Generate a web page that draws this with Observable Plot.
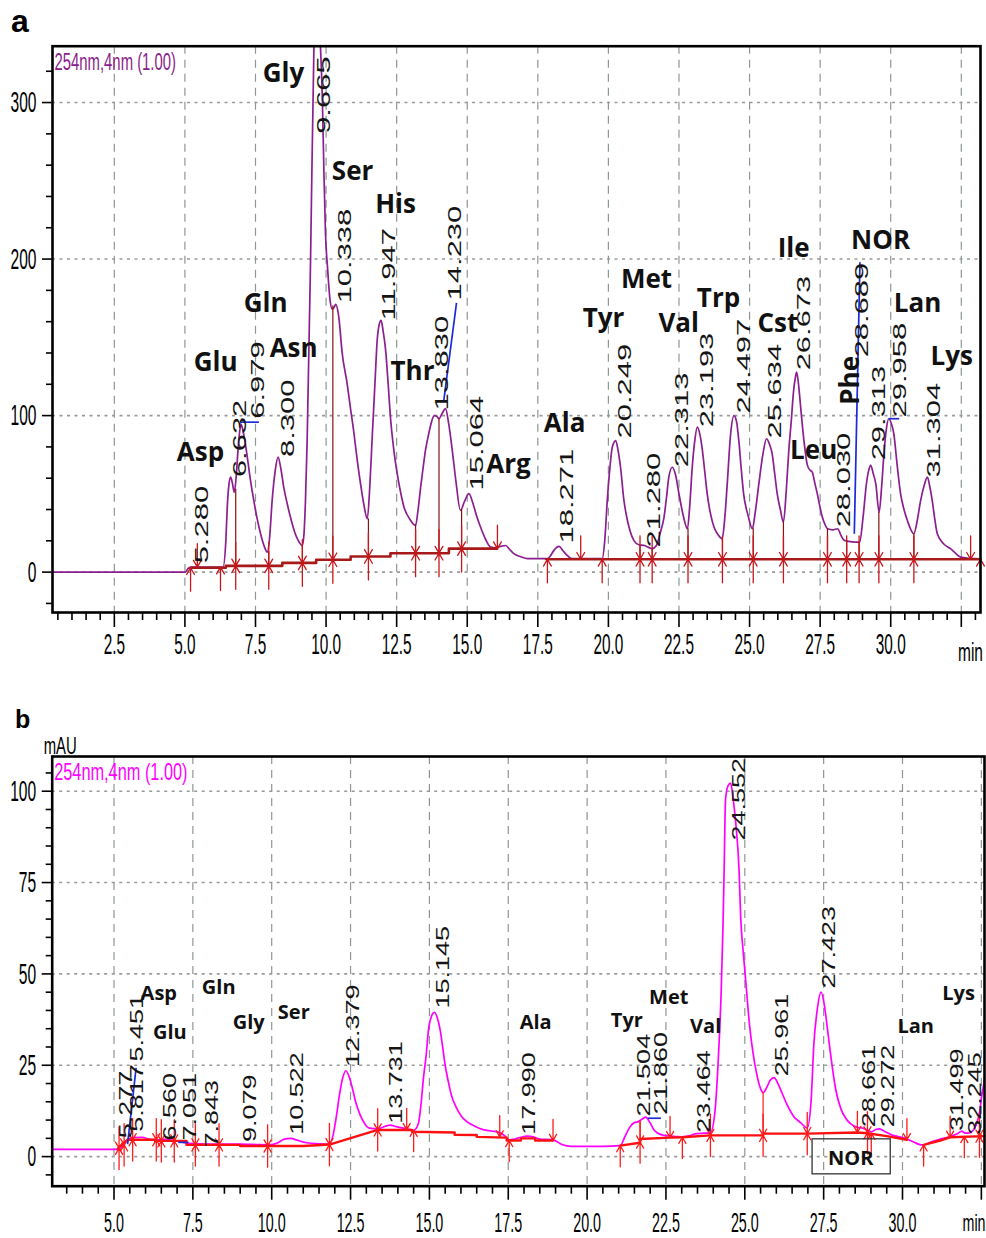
<!DOCTYPE html>
<html><head><meta charset="utf-8">
<script src="https://cdn.jsdelivr.net/npm/d3@7"></script>
<script src="https://cdn.jsdelivr.net/npm/@observablehq/plot@0.6"></script>
<style>
body{margin:0;background:#fff;}
#wrap{position:relative;width:986px;height:1238px;overflow:hidden;background:#fff;}
.pl{position:absolute;font-family:"Liberation Sans",Arial,sans-serif;font-weight:bold;line-height:1;color:#000;}
#pa{position:absolute;left:0;top:0;}
#pb{position:absolute;left:0;top:700px;}
</style></head><body>
<div id="wrap">
  <div id="pa"></div>
  <div id="pb"></div>
  <div class="pl" style="left:11px;top:5px;font-size:32px">a</div>
  <div class="pl" style="left:15px;top:707px;font-size:25px">b</div>
</div>
<script>
// ---------------- Panel a data ----------------
const traceA = [
[0.31,0],[5.02,0],[5.12,2.5],[5.26,3.2],[6.35,3.2],[6.45,20],[6.5,41.5],[6.56,56],[6.62,60.7],[6.68,57],[6.75,51],[6.82,62],[6.88,77.8],[6.94,90],[6.99,94.4],[7.05,91],[7.13,83],[7.21,73.5],[7.32,59],[7.44,45.8],[7.56,34],[7.68,24.5],[7.8,17],[7.92,12.8],[8.0,22],[8.09,45.8],[8.2,65],[8.3,73.5],[8.4,66],[8.5,54.3],[8.62,44],[8.74,35],[8.88,26],[9.02,20],[9.16,17],[9.22,25],[9.27,45.8],[9.33,84],[9.45,199],[9.57,336],[9.665,380],[9.8,336],[9.87,301],[9.92,259],[9.98,216],[10.05,195],[10.13,175.7],[10.22,168],[10.28,169],[10.34,171],[10.45,163],[10.57,140],[10.75,120],[10.87,104],[10.99,88.4],[11.1,72],[11.22,56.5],[11.34,43],[11.46,34],[11.55,55],[11.64,88.4],[11.73,120],[11.81,148],[11.88,158],[11.95,160.8],[12.02,154],[12.11,141.7],[12.2,120],[12.28,99],[12.4,78],[12.52,62.9],[12.64,51],[12.76,41.5],[12.96,34],[13.17,29.8],[13.26,40],[13.35,54.3],[13.44,67],[13.52,77.8],[13.62,87],[13.72,95],[13.83,100],[13.92,99.5],[14.0,98],[14.1,101],[14.23,104.4],[14.35,94],[14.47,77.8],[14.6,58],[14.76,39.4],[14.9,45],[15.06,50.1],[15.2,44],[15.33,36],[15.47,28.8],[15.65,21],[15.83,16],[16.0,15.5],[16.18,16.4],[16.36,17],[16.5,14.5],[16.65,11.8],[16.9,9.8],[17.13,8.6],[17.84,8.6],[17.95,10.5],[18.07,13.9],[18.25,16.4],[18.4,13.5],[18.54,10.7],[18.73,8.6],[19.78,8.6],[19.87,20],[19.96,45.8],[20.05,66],[20.14,80],[20.26,84],[20.34,78],[20.43,67],[20.55,45.8],[20.64,36],[20.73,28.8],[20.9,20.3],[21.08,17.5],[21.28,17],[21.4,16],[21.55,15],[21.7,17],[21.85,26],[21.97,35],[22.06,48],[22.14,60.7],[22.26,67],[22.38,62],[22.5,50],[22.64,37],[22.8,27.7],[22.88,42],[22.97,67],[23.06,84],[23.15,92.7],[23.24,88],[23.33,77.8],[23.42,63],[23.5,50],[23.62,37],[23.74,28.8],[23.88,24],[24.03,21.3],[24.12,34],[24.21,56.5],[24.33,88.4],[24.45,100],[24.54,96],[24.62,84],[24.7,67],[24.79,50],[24.95,36],[25.1,27.7],[25.2,38],[25.33,56.5],[25.47,75],[25.6,85.2],[25.7,82],[25.8,75.7],[25.89,63],[25.98,50],[26.09,40],[26.2,32],[26.3,52],[26.39,77.8],[26.48,97],[26.55,114],[26.63,125],[26.67,127.8],[26.74,119],[26.81,105.4],[26.92,85],[27.05,68.2],[27.15,65],[27.22,63.9],[27.31,57],[27.4,50],[27.49,42],[27.58,35],[27.67,30.5],[27.76,27.7],[27.95,27],[28.12,27.7],[28.25,23],[28.35,20.3],[28.55,19.5],[28.71,19.2],[28.9,19.2],[29.02,35],[29.14,56.5],[29.22,65],[29.29,68.2],[29.38,63],[29.47,56.5],[29.59,38.3],[29.68,55],[29.76,75.7],[29.85,92],[29.93,98],[30.02,95],[30.11,88.4],[30.23,68],[30.35,50],[30.47,40],[30.59,33],[30.82,24.5],[30.94,33],[31.06,45.8],[31.18,55],[31.3,60.7],[31.38,55],[31.47,45.8],[31.56,34],[31.65,24.5],[31.88,18],[32.12,15],[32.3,12],[32.47,9.6],[32.8,8.8],[33.18,8.5]
];
const baselineA = [
[[5.2,2.8],[6.45,2.8],[6.45,4.0],[8.45,4.0],[8.45,5.9],[9.65,5.9],[9.65,7.9],[10.87,7.9],[10.87,10],[12.28,10],[12.28,12.1],[14.35,12.1],[14.35,15],[16.06,15]],
[[17.8,8.2],[33.18,8.2]]
];
// [time, kind, baseline level]
const markersA = [
[5.2,"up",2.8],[5.44,"down",3.2],[6.26,"up",3.2],[6.8,"both",4],[7.97,"both",4],[9.16,"both",5.9],[10.24,"both",7.9],[11.5,"both",10],[13.17,"both",12.1],[14.0,"both",12.1],[14.8,"both",15],[16.07,"down",15],[17.84,"up",8.2],[19.02,"down",8.2],[19.78,"up",8.2],[21.12,"both",8.2],[21.55,"both",8.2],[22.82,"both",8.2],[24.04,"both",8.2],[25.13,"both",8.2],[26.2,"both",8.2],[27.76,"both",8.2],[28.44,"both",8.2],[28.88,"both",8.2],[29.58,"both",8.2],[30.82,"both",8.2],[32.83,"down",8.2],[33.18,"up",8.2]
];
// [time, baseline, valley]
const dropsA = [
[6.8,4,53],[7.97,4,13],[9.16,5.9,17],[10.24,7.9,170],[11.5,10,34],[13.17,12.1,30],[14.0,12.1,98],[14.8,15,40],[21.12,8.2,17],[21.55,8.2,15],[22.82,8.2,27.7],[24.04,8.2,21.3],[25.13,8.2,27.7],[26.2,8.2,32],[27.76,8.2,27.7],[28.44,8.2,20],[28.88,8.2,19.2],[29.58,8.2,38.3],[30.82,8.2,24.5]
];
// leader lines [t1, s1, t2, s2]
const leadersA = [[6.97,95.8,7.62,95.8],[14.17,109.7,14.62,172],[28.71,24.5,28.91,198],[29.93,98,30.3,98]];
// [label, column time, start level]
const peakLabelsA = [
["5.280",5.61,5.6],["6.632",6.97,60.7],["6.979",7.61,98],["8.300",8.65,73.5],["9.665",9.92,280],["10.338",10.69,171.7],["11.947",12.22,160.8],["13.830",14.12,103.3],["14.230",14.59,173.6],["15.064",15.36,52.2],["18.271",18.54,18.3],["20.249",20.61,85.4],["21.280",21.61,15.8],["22.313",22.62,67],["23.193",23.5,92.5],["24.497",24.8,101.4],["25.634",25.92,85.4],["26.673",26.93,128.9],["28.030",28.34,28.6],["28.689",28.99,137.2],["29.313",29.58,71.4],["29.958",30.35,98.8],["31.304",31.53,60.5]
];
// [name, time, level, rotation]
const aminoA = [
["Asp",5.55,76.5,0],["Glu",6.09,134,0],["Gln",7.86,171.7,0],["Asn",8.85,143,0],["Gly",8.49,318.6,0],["Ser",10.94,255.8,0],["His",12.46,234.7,0],["Thr",13.06,128.3,0],["Arg",16.46,68.9,0],["Ala",18.45,95,0],["Tyr",19.83,162,0],["Met",21.35,187,0],["Val",22.49,159,0],["Trp",23.9,175,0],["Cst",26.0,159,0],["Ile",26.56,206.8,0],["Leu",27.27,77.8,0],["Phe",28.58,122.5,-90],["NOR",29.64,211.9,0],["Lan",30.95,171.7,0],["Lys",32.16,137.8,0]
];
const xTicksA = [2.5,5,7.5,10,12.5,15,17.5,20,22.5,25,27.5,30,32.5];
const xTickLabelsA = ["2.5","5.0","7.5","10.0","12.5","15.0","17.5","20.0","22.5","25.0","27.5","30.0",""];
const yTicksA = [0,100,200,300];

// ---------------- Panel b data ----------------
const traceB = [
[3.04,2],[5.16,2],[5.3,3],[5.42,4.5],[5.6,5.2],[5.9,5.3],[6.1,4.8],[6.3,4.6],[6.6,4.7],[6.9,4.4],[7.1,4],[7.4,3.6],[8.0,3.4],[9.0,3.4],[9.5,3.3],[9.9,3.2],[10.2,3.8],[10.4,4.8],[10.6,5],[10.8,4.5],[11.1,3.8],[11.5,3.5],[11.83,3.4],[11.95,6],[12.05,11],[12.15,17],[12.25,21.5],[12.35,23.5],[12.45,22],[12.55,19],[12.66,15],[12.8,11.5],[12.95,9],[13.1,7.8],[13.36,7.6],[13.6,8.3],[13.75,8.6],[13.95,8.2],[14.28,7.6],[14.5,7.2],[14.65,9],[14.73,14],[14.81,21.4],[14.9,28],[14.97,34.7],[15.07,38.5],[15.16,39.5],[15.25,38],[15.34,34.7],[15.42,30],[15.5,25],[15.6,20.5],[15.7,16.7],[15.85,13.5],[16.02,11],[16.2,9.5],[16.44,8.3],[16.7,7.4],[16.97,7],[17.23,6.6],[17.4,5.6],[17.53,4.6],[17.7,4.8],[17.9,5.3],[18.1,5.6],[18.3,5.4],[18.5,4.8],[18.92,4.6],[19.2,3.3],[19.5,2.8],[20.5,2.8],[21.05,3.0],[21.2,5.5],[21.35,8],[21.5,9.3],[21.6,9.5],[21.75,10.3],[21.86,10.8],[21.98,9.5],[22.13,7.2],[22.34,6],[22.63,5.6],[23.02,5.4],[23.3,5.8],[23.46,6.3],[23.7,6.4],[23.91,6.5],[24.05,12],[24.15,25],[24.25,45],[24.31,63.6],[24.34,76.2],[24.39,97.8],[24.47,101.5],[24.55,102.2],[24.63,98],[24.71,91.6],[24.82,78],[24.87,65.4],[24.95,56],[25.03,48],[25.15,36],[25.25,29],[25.38,22.5],[25.5,18.6],[25.58,17.5],[25.7,19],[25.8,20.8],[25.93,21.6],[26.05,20],[26.2,17],[26.35,14],[26.55,11],[26.77,9.3],[26.98,7.8],[27.1,15],[27.19,30.8],[27.3,40.4],[27.42,45],[27.53,41],[27.62,35],[27.72,28],[27.88,18.5],[28.05,13],[28.2,10.5],[28.35,9],[28.57,8],[28.75,7.8],[28.89,7.2],[29.01,6.8],[29.15,7.4],[29.27,7.6],[29.45,6.8],[29.7,5.8],[30.0,5.2],[30.14,4.8],[30.35,4],[30.55,3.3],[30.67,3.2],[30.9,4],[31.2,4.8],[31.51,5.5],[31.75,6.3],[31.88,7],[31.96,6.5],[32.1,6.4],[32.25,7.3],[32.35,9],[32.44,12],[32.52,17],[32.6,21]
];
const baselineB = [
[[5.12,2.2],[5.42,4.6],[6.3,4.6],[6.3,4.3],[7.3,4.3],[7.3,3.2],[9.0,3.2],[9.0,2.9],[11.0,2.9],[11.83,3.3],[13.36,7.3],[14.45,7.3],[14.45,6.8],[15.8,6.6],[15.8,6.0],[16.5,5.9],[16.5,5.4],[17.45,5.2],[17.45,4.4],[17.9,4.4],[17.9,5.0],[18.35,5.0],[18.35,4.4],[18.92,4.4]],
[[21.05,3.0],[21.68,3.8],[21.68,4.8],[22.63,5.2],[23.02,5.3],[23.91,5.8],[25.58,5.8],[25.6,6.3],[26.98,6.3],[28.57,6.6],[28.89,6.4],[29.5,5.6],[30.14,4.6]],
[[30.67,3.2],[31.2,4.4],[31.51,5.3],[32.6,5.6]]
];
const markersB = [
[5.16,"both",2.3],[5.32,"both",3.2],[5.59,"both",4.6],[6.34,"both",4.6],[6.5,"both",4.3],[6.91,"both",4.3],[7.58,"both",3.2],[8.33,"both",3.2],[9.87,"both",2.9],[11.83,"both",3.3],[13.36,"both",7.3],[14.28,"down",7.4],[14.5,"up",7.2],[17.23,"down",5.4],[17.53,"up",4.4],[18.92,"down",4.4],[21.05,"up",3.0],[21.68,"both",4],[22.63,"down",5.2],[23.02,"up",5.3],[23.91,"both",5.8],[25.58,"both",5.8],[26.98,"both",6.3],[28.57,"down",6.6],[28.89,"both",6.5],[29.01,"up",6.4],[30.14,"down",4.6],[30.67,"up",3.2],[31.51,"down",5.3],[31.96,"up",5.5],[32.44,"both",5.6]
];
const dropsB = [[25.58,5.8,17.5],[21.68,4,9.5]];
const leadersB = [[5.43,3.4,5.7,24.3],[7.04,3.9,7.36,3.9],[21.92,10.5,22.34,10.5]];
const peakLabelsB = [
["5.277",5.4,5],["5.817",5.74,6.8],["5.451",5.74,26],["6.560",6.77,4.4],["7.051",7.41,4.4],["7.843",8.11,2.5],["9.079",9.32,4],["10.522",10.8,6],["12.379",12.57,24.5],["13.731",13.95,9],["15.145",15.44,40.5],["17.990",18.18,6],["21.504",21.81,11],["21.860",22.34,11.5],["23.464",23.7,6.5],["24.552",24.82,86.5],["25.961",26.19,22],["27.423",27.67,46],["28.661",28.94,8],["29.272",29.54,8],["31.499",31.75,7],["32.245",32.3,6]
];
const aminoB = [
["Asp",6.42,44.6,0],["Glu",6.77,34,0],["Gln",8.32,46.3,0],["Gly",9.27,36.7,0],["Ser",10.7,39.4,0],["Ala",18.37,36.7,0],["Tyr",21.26,37.2,0],["Met",22.59,43.5,0],["Val",23.76,35.6,0],["Lan",30.42,35.6,0],["Lys",31.78,44.6,0]
];
const boxedB = [["NOR",28.36,-0.5]];
const xTicksB = [5,7.5,10,12.5,15,17.5,20,22.5,25,27.5,30,32.5];
const xTickLabelsB = ["5.0","7.5","10.0","12.5","15.0","17.5","20.0","22.5","25.0","27.5","30.0",""];
const yTicksB = [0,25,50,75,100];

// ---------------- helpers ----------------
const NS = "http://www.w3.org/2000/svg";
const FONT = "'Liberation Sans', Arial, sans-serif";
const BOLD = "'Open Sans', 'Noto Sans', sans-serif";
function flatSegs(segs){const o=[];segs.forEach((seg,i)=>seg.forEach(([t,s])=>o.push({t,s,k:i})));return o;}
function arrowsFrom(markers,len){const o=[];for(const [t,kind,b] of markers){if(kind!=="up")o.push({t,y1:b+len,y2:b});if(kind!=="down")o.push({t,y1:b-len,y2:b});}return o;}

// scale a text element about an anchor of its box, by wrapping it in a group
function wrapScale(t,sx,sy,hx,vy){
  const bb=t.getBBox();
  const tl=t.transform && t.transform.baseVal;
  const c=tl && tl.numberOfItems ? tl.consolidate() : null;
  const M=c?c.matrix:null;
  const pts=[[bb.x,bb.y],[bb.x+bb.width,bb.y],[bb.x,bb.y+bb.height],[bb.x+bb.width,bb.y+bb.height]]
    .map(([x,y])=>M?[M.a*x+M.c*y+M.e,M.b*x+M.d*y+M.f]:[x,y]);
  const xs=pts.map(p=>p[0]),ys=pts.map(p=>p[1]);
  const minX=Math.min(...xs),maxX=Math.max(...xs),minY=Math.min(...ys),maxY=Math.max(...ys);
  const px=hx==="left"?minX:hx==="right"?maxX:(minX+maxX)/2;
  const py=vy==="top"?minY:vy==="bottom"?maxY:(minY+maxY)/2;
  const g=document.createElementNS(NS,"g");
  g.setAttribute("transform",`translate(${px},${py}) scale(${sx},${sy}) translate(${-px},${-py})`);
  t.parentNode.insertBefore(g,t);g.appendChild(t);
}

function makePanel(c){
  const labelOf=new Map(c.xTicks.map((v,i)=>[v,c.xTickLabels[i]]));
  const marks=[
    Plot.gridY(c.yTicks,{stroke:"#9a9a9a",strokeOpacity:1,strokeWidth:1.6,strokeDasharray:"3,4.5"}),
    Plot.gridX(c.xTicks,{stroke:"#8d9892",strokeOpacity:1,strokeWidth:1.2,strokeDasharray:"8,6"}),
    Plot.line(c.trace.map(([t,s])=>({t,s})),{x:"t",y:"s",stroke:c.traceColor,strokeWidth:c.traceWidth,curve:"monotone-x",clip:true}),
    Plot.ruleX(c.drops.map(([t,b,top])=>({t,b,top})),{x:"t",y1:"b",y2:"top",stroke:c.dropColor,strokeWidth:1.2}),
    Plot.line(flatSegs(c.baseline),{x:"t",y:"s",z:"k",stroke:c.baseColor,strokeWidth:c.baseWidth}),
    Plot.arrow(arrowsFrom(c.markers,c.arrowLen),{x1:"t",x2:"t",y1:"y1",y2:"y2",stroke:c.arrowColor,strokeWidth:1.3,headLength:11,headAngle:60}),
    Plot.link(c.leaders.map(([a,b,d,e])=>({a,b,d,e})),{x1:"a",y1:"b",x2:"d",y2:"e",stroke:"#1b2bd8",strokeWidth:1.7}),
    Plot.text(c.peakLabels.map(([text,t,s])=>({text,t,s})),{x:"t",y:"s",text:"text",rotate:-90,textAnchor:"start",lineAnchor:"middle",fontSize:18,fontFamily:FONT,fill:"#151515"}),
    Plot.text(c.amino.map(([text,t,s,r])=>({text,t,s,r})),{x:"t",y:"s",text:"text",rotate:"r",textAnchor:"middle",lineAnchor:"middle",fontSize:c.aminoSize,fontWeight:"bold",fontFamily:BOLD,fill:"#111"}),
    Plot.text([c.title],{frameAnchor:"top-left",text:d=>d,dx:2,dy:c.titleDy,textAnchor:"start",lineAnchor:"top",fill:c.titleColor,fontSize:24,fontFamily:FONT}),
    Plot.frame({stroke:"#000",strokeWidth:2.6}),
    Plot.axisY(c.yTicks,{tickSize:10,tickPadding:6,fontSize:30,fontFamily:FONT,strokeWidth:1.6,label:null,tickFormat:d=>String(d)}),
    Plot.axisY(c.yMinor,{tickSize:6,strokeWidth:1.6,label:null,tickFormat:()=>""}),
    Plot.axisX(c.xTicks,{tickSize:c.xTickSize,tickPadding:c.xTickPad,fontSize:c.xFont,fontFamily:FONT,strokeWidth:1.6,label:null,tickFormat:d=>labelOf.get(d)}),
    Plot.axisX(c.xMinor,{tickSize:8,strokeWidth:1.6,label:null,tickFormat:()=>""}),
    Plot.text(["min"],{frameAnchor:"bottom-right",text:d=>d,dx:c.minDx,dy:c.minDy,textAnchor:c.minAnchor,lineAnchor:"top",fontSize:c.minFont,fontFamily:FONT,fill:"#000"})
  ];
  if(c.boxed) marks.push(Plot.text(c.boxed.map(([text,t,s])=>({text,t,s})),{x:"t",y:"s",text:"text",textAnchor:"middle",lineAnchor:"middle",fontSize:c.aminoSize,fontWeight:"bold",fontFamily:BOLD,fill:"#111"}));
  if(c.yUnit) marks.push(Plot.text([c.yUnit],{frameAnchor:"top-left",text:d=>d,dx:8,dy:-3,textAnchor:"middle",lineAnchor:"bottom",fontSize:24,fontFamily:FONT,fill:"#000"}));
  return Plot.plot({
    width:986,height:c.height,
    marginTop:c.mt,marginRight:c.mr,marginBottom:c.mb,marginLeft:c.ml,
    x:{domain:c.xDomain,label:null},
    y:{domain:c.yDomain,label:null},
    style:{background:"transparent",overflow:"visible",fontFamily:FONT},
    marks
  });
}

function postProcess(svg,c){
  const texts=[...svg.querySelectorAll("text")];
  for(const t of texts){
    const s=(t.textContent||"").trim();
    if(!s) continue;
    const g=t.closest("g[aria-label]");
    const gl=g?g.getAttribute("aria-label"):"";
    if(gl==="y-axis tick label") wrapScale(t,0.52,1,"right","middle");
    else if(gl==="x-axis tick label") wrapScale(t,0.53,1,"center","top");
    else if(/^\d+\.\d{3}$/.test(s)) wrapScale(t,1,c.labelStretch,"center","bottom");
    else if(s===c.title) wrapScale(t,c.titleSqueeze,1,"left","top");
    else if(s==="min") wrapScale(t,0.62,1,c.minAnchor==="end"?"right":"center","top");
    else if(s==="mAU") wrapScale(t,0.62,1,"center","bottom");
    else if(c.boxed && s===c.boxed[0][0]){
      const bb=t.getBBox();
      const r=document.createElementNS(NS,"rect");
      r.setAttribute("x",bb.x-16);r.setAttribute("y",bb.y-5);
      r.setAttribute("width",bb.width+32);r.setAttribute("height",bb.height+8);
      r.setAttribute("fill","none");r.setAttribute("stroke","#333");r.setAttribute("stroke-width","1.3");
      const tr=t.getAttribute("transform");if(tr)r.setAttribute("transform",tr);
      t.parentNode.insertBefore(r,t);
    }
  }
}

const cfgA={
  height:660,mt:45.7,mr:6,mb:48,ml:52,
  xDomain:[0.31,33.18],yDomain:[-25.8,336],
  trace:traceA,baseline:baselineA,markers:markersA,drops:dropsA,leaders:leadersA,
  peakLabels:peakLabelsA,amino:aminoA,aminoSize:26,
  traceColor:"#8b1f8f",traceWidth:1.7,baseColor:"#a81a1a",baseWidth:2.6,
  arrowColor:"#c8161b",dropColor:"#8a1010",arrowLen:15,
  title:"254nm,4nm (1.00)",titleColor:"#8b1c8b",titleDy:7,titleSqueeze:0.62,
  yTicks:yTicksA,yMinor:[-20,20,40,60,80,120,140,160,180,220,240,260,280,320],
  xTicks:xTicksA,xTickLabels:xTickLabelsA,
  xMinor:d3.range(0.5,33.01,0.5).filter(v=>Math.abs(v/2.5-Math.round(v/2.5))>1e-6),
  xTickSize:15,xTickPad:6,xFont:29,minDx:-10,minDy:31,minAnchor:"middle",minFont:25,
  labelStretch:1.72
};
const cfgB={
  height:538,mt:56,mr:2,mb:52.3,ml:51.7,
  xDomain:[3.04,32.6],yDomain:[-8.1,109.5],
  trace:traceB,baseline:baselineB,markers:markersB,drops:dropsB,leaders:leadersB,
  peakLabels:peakLabelsB,amino:aminoB,aminoSize:20,boxed:boxedB,
  traceColor:"#ff00ff",traceWidth:1.7,baseColor:"#ff1010",baseWidth:2.4,
  arrowColor:"#ff1a1a",dropColor:"#ff1a1a",arrowLen:5.8,
  title:"254nm,4nm (1.00)",titleColor:"#ff00ff",titleDy:6,titleSqueeze:0.68,yUnit:"mAU",
  yTicks:yTicksB,yMinor:[-5,5,10,15,20,30,35,40,45,55,60,65,70,80,85,90,95,105],
  xTicks:xTicksB,xTickLabels:xTickLabelsB,
  xMinor:d3.range(3.5,32.51,0.5).filter(v=>Math.abs(v/2.5-Math.round(v/2.5))>1e-6),
  xTickSize:14,xTickPad:13,xFont:27,minDx:1,minDy:28,minAnchor:"end",minFont:23,
  labelStretch:1.5
};
const svgA=makePanel(cfgA);
document.getElementById("pa").appendChild(svgA);
postProcess(svgA,cfgA);
const svgB=makePanel(cfgB);
document.getElementById("pb").appendChild(svgB);
postProcess(svgB,cfgB);
</script>
</body></html>
